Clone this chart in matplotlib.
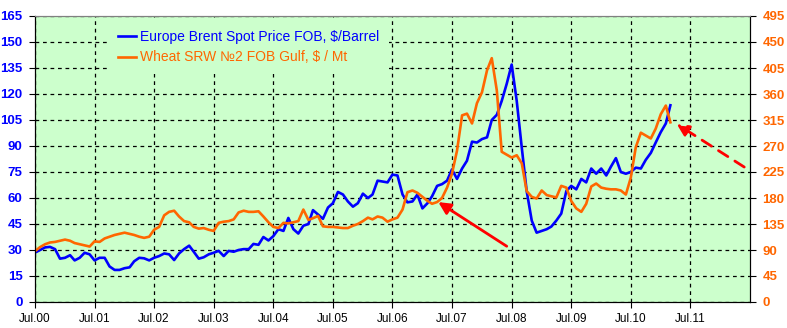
import pandas as pd
import matplotlib
matplotlib.use("Agg")
import matplotlib.pyplot as plt

plt.rcParams['font.family'] = ['Liberation Sans', 'DejaVu Sans']

# monthly points, Jul 2000 .. Mar 2011
months = pd.date_range("2000-07-01", periods=129, freq="MS")

brent = [
    28.5, 30, 31.5, 31.8, 30.5, 25,                                  # 2000
    25.5, 27, 24, 25.5, 28.4, 27.5, 24, 25.5, 25.5, 20.5, 18.5, 18.5,  # 2001
    19.5, 20, 23.5, 25.5, 25.2, 24, 25.5, 26.5, 28, 27.5, 24.2, 28,    # 2002
    30.5, 32.5, 29, 25, 25.8, 27.5, 28.4, 29.5, 26.5, 29.5, 29, 30,    # 2003
    30.5, 30.5, 33.5, 33, 37.5, 35.5, 38, 42, 41, 48.5, 42, 39.5,      # 2004
    44, 45, 53, 50.5, 48, 54.5, 57, 63.5, 62, 58, 55, 57,              # 2005
    62.5, 60, 62, 70, 69.5, 69, 73.5, 73, 62, 57.5, 58, 62,            # 2006
    54, 57, 61, 67, 68, 70, 76.5, 71, 77, 81.5, 92.5, 92,              # 2007
    94, 95, 105, 108, 116, 126, 137, 116, 89, 64, 47, 40,              # 2008
    41, 42, 43.5, 47, 51, 64, 67, 65, 71, 69, 77, 74,                  # 2009
    77, 73, 78, 83, 75, 74, 75, 77.5, 77, 82, 86, 92,                  # 2010
    98, 103, 113.5,                                                    # 2011
]

wheat = [
    88, 95, 100, 103, 104, 106,
    108, 106, 102, 100, 98, 96, 105, 104, 110, 113, 116, 118,
    120, 118, 116, 113, 111, 113, 125, 130, 150, 156, 158, 148,
    140, 138, 130, 127, 128, 125, 123, 137, 139, 140, 143, 155,
    158, 156, 156, 157, 148, 138, 130, 128, 137, 136, 138, 140,
    160, 142, 145, 149, 131, 130, 130, 129, 128, 128, 132, 135,
    140, 146, 143, 148, 146, 139, 143, 146, 160, 190, 193, 189,
    182, 175, 170, 173, 180, 198, 222, 262, 323, 326, 309, 344,
    363, 401, 422, 366, 260, 255, 250, 254, 240, 192, 182, 179,
    193, 185, 183, 181, 201, 198, 175, 162, 156, 170, 200, 205,
    198, 196, 195, 195, 193, 186, 215, 268, 293, 288, 283, 300,
    325, 340, 311,
]

year_ticks = pd.date_range("2000-07-01", "2011-07-01", freq="12MS")
year_labels = [d.strftime("Jul.%y") for d in year_ticks]

fig = plt.figure(figsize=(7.87, 3.28), dpi=100)
ax = fig.add_axes([35 / 787, 1 - 302 / 328, 715 / 787, 286 / 328])
ax.set_facecolor("#CCFFCC")
ax2 = ax.twinx()

l1, = ax.plot(months, brent, color="#0000FF", lw=1.9,
              label="Europe Brent Spot Price FOB, $/Barrel")
l2, = ax2.plot(months, wheat, color="#FF6600", lw=1.9,
               label="Wheat SRW №2 FOB Gulf, $ / Mt")

ax.set_xlim(pd.Timestamp("2000-07-01"), pd.Timestamp("2012-07-01"))
ax.set_ylim(0, 165)
ax2.set_ylim(0, 495)
ax.set_yticks(range(0, 166, 15))
ax2.set_yticks(range(0, 496, 45))
ax.set_xticks(year_ticks)
ax.set_xticklabels(year_labels)

ax.grid(True, color="black", linestyle=(0, (3, 3)), lw=0.9)

ax.tick_params(axis="x", length=4, pad=4, labelsize=8.5, color="black")
ax.tick_params(axis="y", length=4, pad=5, labelsize=9.5, labelcolor="#0000FF")
ax2.tick_params(axis="y", length=4, pad=5, labelsize=9.5, labelcolor="#FF6600")
for lab in ax.get_yticklabels() + ax2.get_yticklabels():
    lab.set_fontweight("bold")

for a in (ax, ax2):
    a.spines["top"].set_color("#808080")
    for s in ("left", "right", "bottom"):
        a.spines[s].set_color("black")

# arrows pointing at the wheat curve
ax.annotate("", xy=(pd.Timestamp("2007-03-25"), 58.5),
            xytext=(pd.Timestamp("2008-06-15"), 31.3),
            arrowprops=dict(arrowstyle="-|>", color="red", lw=2, mutation_scale=18))
ax.annotate("", xy=(pd.Timestamp("2011-03-25"), 103.6),
            xytext=(pd.Timestamp("2012-06-10"), 77),
            arrowprops=dict(arrowstyle="-|>", color="red", lw=2, mutation_scale=18,
                            linestyle=(0, (4, 3))),
            annotation_clip=False)

# legend sits on a green box that hides the grid behind it
leg = ax2.legend(handles=[l1, l2], loc="upper left", bbox_to_anchor=(0.11, 0.965),
                 frameon=True, facecolor="#CCFFCC", edgecolor="none", framealpha=1,
                 fancybox=False, borderpad=0.3, borderaxespad=0,
                 fontsize=10, handlelength=1.3, handletextpad=0.3,
                 labelspacing=0.45)
leg.get_frame().set_boxstyle("square", pad=0.4)
for txt, ln in zip(leg.get_texts(), (l1, l2)):
    txt.set_color(ln.get_color())

fig.savefig("out.png", dpi=100)
